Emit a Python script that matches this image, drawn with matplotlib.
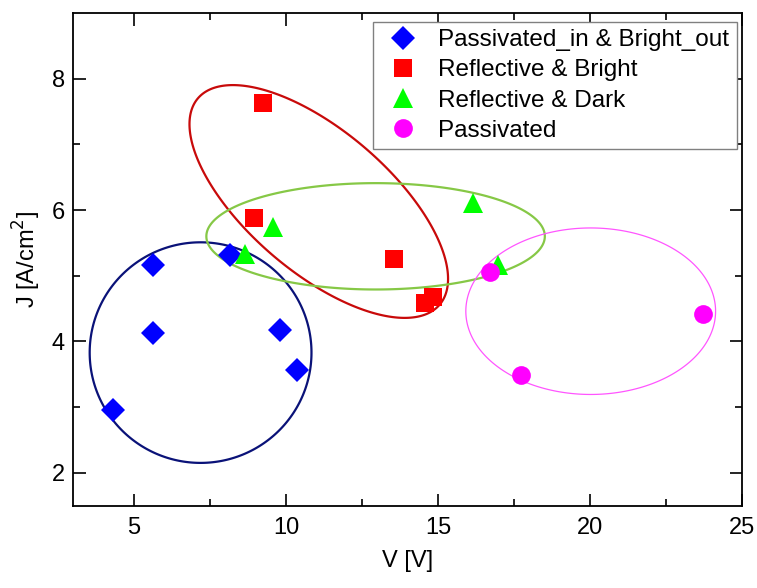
import matplotlib.pyplot as plt
from matplotlib.patches import Polygon
import numpy as np

plt.rcParams['font.family'] = ['Liberation Sans', 'DejaVu Sans']

# data points (V, J)
pib_v = [4.31, 5.62, 5.62, 8.15, 9.80, 10.36]
pib_j = [2.95, 5.17, 4.13, 5.32, 4.18, 3.57]

rb_v = [9.24, 8.94, 13.57, 14.57, 14.84]
rb_j = [7.63, 5.88, 5.26, 4.59, 4.67]

rd_v = [8.65, 9.57, 16.14, 16.98]
rd_j = [5.33, 5.74, 6.11, 5.17]

pas_v = [16.70, 17.72, 23.72]
pas_j = [5.05, 3.49, 4.41]

# group ellipses: centre (V, J), half axes in V units, tilt in degrees (visual)
ell_centers = [(7.19, 3.83), (11.08, 6.13), (12.95, 5.60), (20.03, 4.46)]
ell_axes = [(3.65, 3.63), (5.23, 2.33), (5.57, 1.75), (4.11, 2.74)]
ell_angles = [0, -40.5, 0, 0]
ell_colors = ['#0a1278', '#c80a0a', '#86c846', '#ff55ff']
ell_widths = [1.6, 1.6, 1.6, 0.9]

fig = plt.figure(figsize=(7.57, 5.88), dpi=100)
ax = fig.add_axes([0.0968, 0.140, 0.883, 0.838])
ax.set_xlim(3, 25)
ax.set_ylim(1.5, 9)

# ratio of pixel scale y/x, so ellipse tilts look right on screen
bb = ax.get_window_extent()
k = (bb.height / 7.5) / (bb.width / 22.0)

t = np.linspace(0, 2 * np.pi, 500, endpoint=False)
for (cx, cy), (a, b), ang, col, lw in zip(ell_centers, ell_axes, ell_angles, ell_colors, ell_widths):
    th = np.deg2rad(ang)
    u, v = a * np.cos(t), b * np.sin(t)
    ex = cx + u * np.cos(th) - v * np.sin(th)
    ey = cy + (u * np.sin(th) + v * np.cos(th)) / k
    ax.add_patch(Polygon(np.column_stack([ex, ey]), closed=True, fill=False,
                         edgecolor=col, lw=lw, zorder=2))

ax.plot(pib_v, pib_j, 'D', color='#0000ff', ms=12.5, mew=0, ls='none',
        label='Passivated_in & Bright_out', zorder=3)
ax.plot(rb_v, rb_j, 's', color='#ff0000', ms=12.5, mew=0, ls='none',
        label='Reflective & Bright', zorder=3)
ax.plot(rd_v, rd_j, '^', color='#00ff00', ms=15, mew=0, ls='none',
        label='Reflective & Dark', zorder=3)
ax.plot(pas_v, pas_j, 'o', color='#ff00ff', ms=13.5, mew=0, ls='none',
        label='Passivated', zorder=3)

ax.set_xticks([5, 10, 15, 20, 25])
ax.set_xticks([7.5, 12.5, 17.5, 22.5], minor=True)
ax.set_yticks([2, 4, 6, 8])
ax.set_yticks([3, 5, 7], minor=True)
ax.tick_params(which='both', direction='in', top=True, right=True, width=1.2)
ax.tick_params(which='major', length=9, labelsize=17)
ax.tick_params(which='minor', length=5)
ax.tick_params(axis='x', pad=8)
ax.tick_params(axis='y', pad=6)
for s in ax.spines.values():
    s.set_linewidth(1.3)

ax.set_xlabel('V [V]', fontsize=17, labelpad=8)
ax.set_ylabel('J [A/cm$^2$]', fontsize=17, labelpad=6)

ax.legend(loc='upper right', bbox_to_anchor=(0.9925, 0.982), borderaxespad=0,
          fancybox=False, edgecolor='#808080', framealpha=1, fontsize=17.5,
          handletextpad=0.5, labelspacing=0.34, borderpad=0.3, handlelength=1.9)

fig.savefig('out.png', dpi=100)
